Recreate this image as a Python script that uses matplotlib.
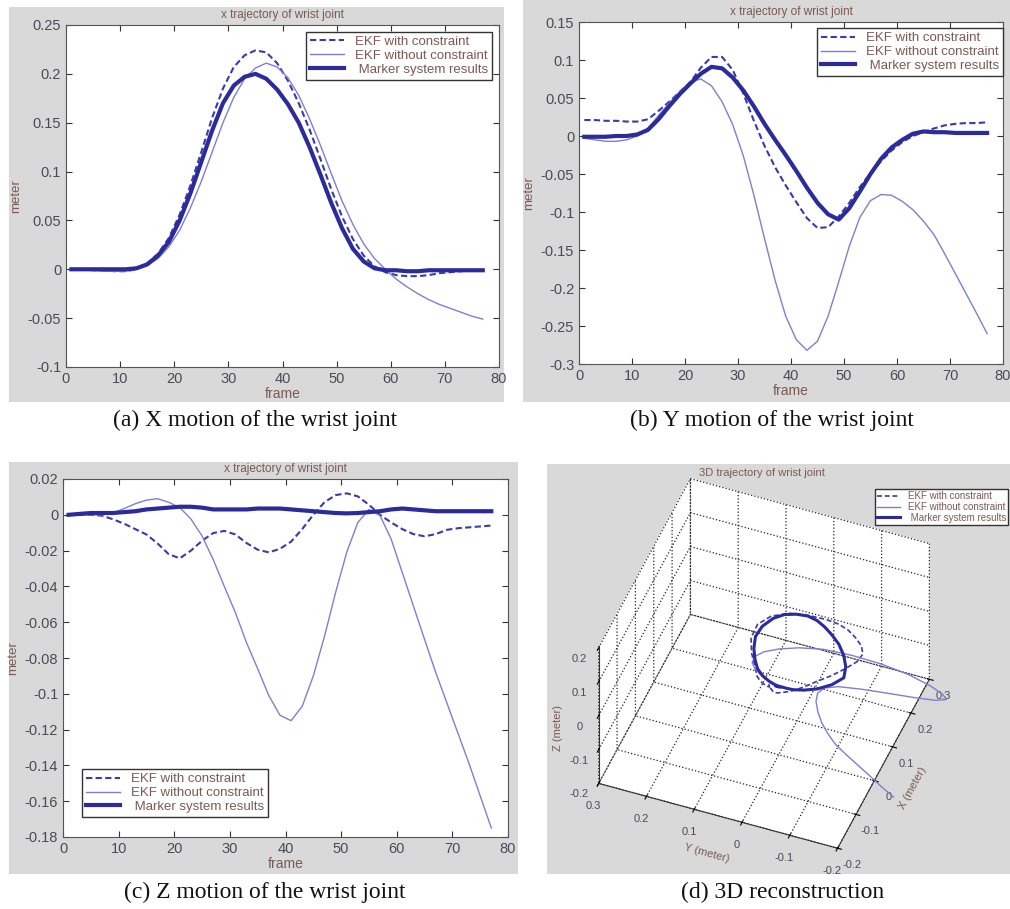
import matplotlib
matplotlib.use("Agg")
import matplotlib.pyplot as plt
from matplotlib.patches import Rectangle
from matplotlib.ticker import FormatStrFormatter

plt.rcParams["font.family"] = ["Liberation Sans", "DejaVu Sans"]

# --- data (every second frame) ---
frames = list(range(1, 78, 2))

x_ekf_con = [0, 0, -0.001, -0.001, -0.002, -0.002, 0, 0.006, 0.016, 0.032, 0.056, 0.086, 0.12,
             0.155, 0.185, 0.207, 0.219, 0.224, 0.222, 0.211, 0.193, 0.17, 0.143, 0.113, 0.082,
             0.054, 0.031, 0.014, 0.003, -0.003, -0.006, -0.007, -0.007, -0.006, -0.004, -0.003,
             -0.002, -0.001, -0.001]
x_ekf_free = [0, 0, -0.001, -0.002, -0.002, -0.002, 0, 0.004, 0.011, 0.023, 0.04, 0.063, 0.09,
              0.12, 0.15, 0.176, 0.195, 0.206, 0.211, 0.207, 0.196, 0.178, 0.154, 0.127, 0.098,
              0.07, 0.046, 0.026, 0.011, 0.0, -0.01, -0.018, -0.025, -0.031, -0.036, -0.04,
              -0.044, -0.048, -0.051]
x_marker = [0, 0, 0, 0, 0, 0, 0.001, 0.005, 0.014, 0.028, 0.05, 0.078, 0.11, 0.142, 0.17,
            0.188, 0.197, 0.2, 0.195, 0.184, 0.169, 0.15, 0.125, 0.097, 0.068, 0.042, 0.021,
            0.008, 0.001, -0.001, -0.001, -0.002, -0.002, -0.001, -0.001, -0.001, -0.001,
            -0.001, -0.001]

y_ekf_con = [0.021, 0.021, 0.02, 0.02, 0.019, 0.019, 0.022, 0.033, 0.045, 0.058, 0.071, 0.09,
             0.104, 0.104, 0.087, 0.056, 0.02, -0.013, -0.041, -0.065, -0.087, -0.108, -0.121,
             -0.12, -0.106, -0.088, -0.067, -0.049, -0.033, -0.019, -0.008, 0.0, 0.005, 0.01,
             0.014, 0.016, 0.017, 0.017, 0.018]
y_ekf_free = [-0.003, -0.005, -0.007, -0.007, -0.005, 0.0, 0.01, 0.027, 0.043, 0.058, 0.071,
              0.075, 0.066, 0.045, 0.015, -0.026, -0.078, -0.135, -0.19, -0.237, -0.268, -0.282,
              -0.27, -0.237, -0.192, -0.145, -0.107, -0.085, -0.077, -0.078, -0.086, -0.097,
              -0.112, -0.13, -0.155, -0.181, -0.207, -0.233, -0.26]
y_marker = [-0.001, -0.001, -0.001, 0, 0, 0.002, 0.008, 0.022, 0.039, 0.055, 0.069, 0.082, 0.091,
            0.089, 0.077, 0.06, 0.039, 0.016, -0.005, -0.025, -0.046, -0.068, -0.088, -0.103,
            -0.11, -0.095, -0.073, -0.05, -0.03, -0.015, -0.005, 0.003, 0.006, 0.005, 0.005,
            0.004, 0.004, 0.004, 0.004]

z_ekf_con = [0, 0, 0, -0.0005, -0.0025, -0.005, -0.008, -0.011, -0.016, -0.022, -0.0243, -0.02,
             -0.0145, -0.0102, -0.009, -0.011, -0.0158, -0.0195, -0.021, -0.019, -0.015, -0.008,
             0.0, 0.007, 0.011, 0.012, 0.0103, 0.0056, 0.0, -0.0043, -0.008, -0.0108, -0.012,
             -0.0108, -0.0084, -0.0075, -0.007, -0.0065, -0.006]
z_ekf_free = [0, 0, 0, 0, 0.001, 0.0035, 0.0062, 0.0082, 0.009, 0.007, 0.004, -0.0024, -0.0118,
              -0.025, -0.04, -0.0547, -0.0715, -0.086, -0.101, -0.112, -0.115, -0.107, -0.09,
              -0.068, -0.0435, -0.021, -0.0043, 0.003, -0.0005, -0.0136, -0.0323, -0.051,
              -0.0696, -0.088, -0.105, -0.122, -0.139, -0.157, -0.175]
z_marker = [0, 0.0005, 0.001, 0.001, 0.001, 0.0015, 0.002, 0.003, 0.0035, 0.004, 0.0045, 0.0045,
            0.004, 0.003, 0.003, 0.003, 0.003, 0.0035, 0.0035, 0.0035, 0.003, 0.0025, 0.002,
            0.0015, 0.001, 0.0008, 0.001, 0.0015, 0.002, 0.003, 0.0035, 0.003, 0.0025, 0.002,
            0.002, 0.002, 0.002, 0.002, 0.002]

labels = ["EKF with constraint", "EKF without constraint", " Marker system results"]
captions = ["(a) X motion of the wrist joint", "(b) Y motion of the wrist joint",
            "(c) Z motion of the wrist joint", "(d) 3D reconstruction"]

W, H = 1010, 909
GRAY = "#d9d9d9"
TXT = "#7a5a52"
TICK = "#4a4a5a"
C_DASH = "#3a3aa8"
C_THIN = "#7f7fd2"
C_THICK = "#2b2b9c"

fig = plt.figure(figsize=(W / 100, H / 100), dpi=100)


def px_rect(x0, y0, x1, y1):
    # pixel box (top-left origin) -> figure fraction [l, b, w, h]
    return [x0 / W, 1 - y1 / H, (x1 - x0) / W, (y1 - y0) / H]


# grey MATLAB-style figure backgrounds
for box in [(9, 7, 504, 402), (523, 0, 1010, 402), (9, 462, 518, 874), (547, 464, 1010, 874)]:
    l, b, w, h = px_rect(*box)
    fig.add_artist(Rectangle((l, b), w, h, transform=fig.transFigure,
                             facecolor=GRAY, edgecolor="none", zorder=-5))


def draw_panel(rect, series, ylim, yticks, legend_kw):
    ax = fig.add_axes(rect)
    ax.plot(frames, series[0], ls=(0, (3, 1.6)), color=C_DASH, lw=1.5, label=labels[0])
    ax.plot(frames, series[1], color=C_THIN, lw=1.0, label=labels[1])
    ax.plot(frames, series[2], color=C_THICK, lw=3.0, label=labels[2])
    ax.set_xlim(0, 80)
    ax.set_ylim(*ylim)
    ax.set_xticks(range(0, 81, 10))
    ax.set_yticks(yticks)
    ax.yaxis.set_major_formatter(FormatStrFormatter("%g"))
    ax.tick_params(direction="in", top=True, right=True, labelsize=10.5,
                   labelcolor=TICK, color="#333333", length=4)
    for sp in ax.spines.values():
        sp.set_color("#555555")
    ax.set_title("x trajectory of wrist joint", fontsize=8.5, color=TXT, pad=5)
    ax.set_xlabel("frame", fontsize=10, color=TXT, labelpad=1)
    ax.set_ylabel("meter", fontsize=9.5, color=TXT, labelpad=4)
    leg = ax.legend(fontsize=9.5, fancybox=False, edgecolor="#333333", framealpha=1,
                    handlelength=2.6, borderpad=0.3, labelspacing=0.12, borderaxespad=0,
                    **legend_kw)
    for t in leg.get_texts():
        t.set_color(TXT)
    return ax


draw_panel(px_rect(66, 25, 499, 367), [x_ekf_con, x_ekf_free, x_marker], (-0.1, 0.25),
           [-0.1, -0.05, 0, 0.05, 0.1, 0.15, 0.2, 0.25],
           dict(loc="upper right", bbox_to_anchor=(0.984, 0.98)))
draw_panel(px_rect(579, 22, 1003, 364), [y_ekf_con, y_ekf_free, y_marker], (-0.3, 0.15),
           [-0.3, -0.25, -0.2, -0.15, -0.1, -0.05, 0, 0.05, 0.1, 0.15],
           dict(loc="upper right", bbox_to_anchor=(1.0, 0.982)))
draw_panel(px_rect(63, 479, 508, 837), [z_ekf_con, z_ekf_free, z_marker], (-0.18, 0.02),
           [-0.18, -0.16, -0.14, -0.12, -0.1, -0.08, -0.06, -0.04, -0.02, 0, 0.02],
           dict(loc="lower left", bbox_to_anchor=(0.043, 0.056)))

# --- 3D reconstruction ---
ax3 = fig.add_axes(px_rect(527, 464, 990, 874), projection="3d", proj_type="ortho")
ax3.set_facecolor((0, 0, 0, 0))
ax3.plot(x_ekf_con, y_ekf_con, z_ekf_con, ls=(0, (3, 1.6)), color=C_DASH, lw=1.2, label=labels[0])
ax3.plot(x_ekf_free, y_ekf_free, z_ekf_free, color=C_THIN, lw=1.0, label=labels[1])
ax3.plot(x_marker, y_marker, z_marker, color=C_THICK, lw=2.2, label=labels[2])
ax3.set_xlim(-0.2, 0.3)
ax3.set_ylim(-0.2, 0.3)
ax3.set_zlim(-0.2, 0.2)
ax3.set_xticks([-0.2, -0.1, 0, 0.1, 0.2, 0.3])
ax3.set_yticks([-0.2, -0.1, 0, 0.1, 0.2, 0.3])
ax3.set_zticks([-0.2, -0.1, 0, 0.1, 0.2])
for axis in (ax3.xaxis, ax3.yaxis, ax3.zaxis):
    axis.set_major_formatter(FormatStrFormatter("%g"))
    axis.set_pane_color((1, 1, 1, 1))
    axis._axinfo["grid"].update(color="#222222", linestyle=":", linewidth=0.9)
    axis.line.set_color("#333333")
ax3.tick_params(labelsize=8, labelcolor=TICK, pad=1)
ax3.set_xlabel("X (meter)", fontsize=8, color=TXT, labelpad=-2)
ax3.set_ylabel("Y (meter)", fontsize=8, color=TXT, labelpad=-2)
ax3.set_zlabel("Z (meter)", fontsize=8, color=TXT, labelpad=-2)
ax3.set_box_aspect((1, 1, 0.75), zoom=0.97)
ax3.view_init(elev=45, azim=-159)
fig.text(762 / W, 1 - 473 / H, "3D trajectory of wrist joint", ha="center", va="center",
         fontsize=8, color=TXT)
leg3 = fig.legend(*ax3.get_legend_handles_labels(), fontsize=7, fancybox=False,
                  edgecolor="#333333", framealpha=1, handlelength=2.4, borderpad=0.2,
                  labelspacing=0.1, borderaxespad=0, loc="upper right",
                  bbox_to_anchor=(1008 / W, 1 - 489 / H))
for t in leg3.get_texts():
    t.set_color(TXT)

# captions under each panel
for text, (cx, cy) in zip(captions, [(255, 420), (772, 420), (265, 892), (783, 892)]):
    fig.text(cx / W, 1 - cy / H, text, ha="center", va="center",
             fontsize=17, family="Liberation Serif", color="#111111")

fig.savefig("out.png", dpi=100, facecolor="white")
